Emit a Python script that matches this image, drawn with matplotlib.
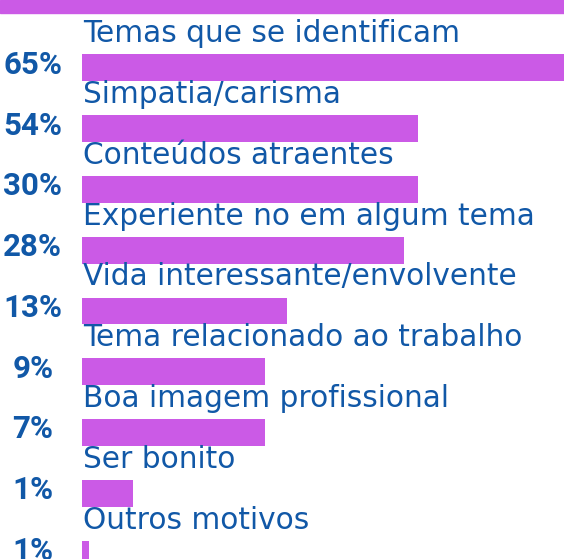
import matplotlib
matplotlib.use("Agg")
import matplotlib.pyplot as plt

# dados
categorias = ["Temas que se identificam", "Simpatia/carisma", "Conteúdos atraentes",
              "Experiente no em algum tema", "Vida interessante/envolvente",
              "Tema relacionado ao trabalho", "Boa imagem profissional",
              "Ser bonito", "Outros motivos"]
percentuais = ["65%", "54%", "30%", "28%", "13%", "9%", "7%", "1%", "1%"]
# comprimento visual das barras (0-100 = largura útil)
comprimentos = [101, 69.7, 69.7, 66.8, 42.5, 38.0, 38.0, 10.6, 1.4]

roxo = "#cb5ae6"
azul = "#1158a7"

fig = plt.figure(figsize=(5.64, 5.59), dpi=100)
ax = fig.add_axes([0, 0, 1, 1])
ax.axis("off")

# escala: x em % da largura útil, y em índice da barra
ax.set_xlim(-17.01, 100)
ax.set_ylim(8.082, -1.119)

posicoes = list(range(len(categorias)))
ax.barh(posicoes, comprimentos, height=0.444, left=0, color=roxo)

# faixa decorativa no topo
ax.axhspan(-1.119, -0.905, color=roxo)

for i, (cat, pct) in enumerate(zip(categorias, percentuais)):
    ax.text(0.3, i - 0.42, cat, ha="left", va="baseline", color=azul,
            fontsize=21.3, family="DejaVu Sans")
    ax.text(-10.2, i - 0.05, pct, ha="center", va="center", color=azul,
            fontsize=22.5, fontweight="bold", family="Roboto")

fig.savefig("out.png", dpi=100)
